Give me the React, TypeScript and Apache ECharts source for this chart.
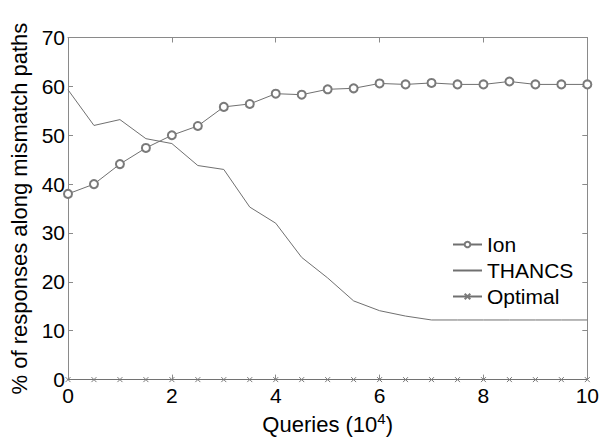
import React, { useEffect, useRef } from "react";
import * as echarts from "echarts";

const queries = [0, 0.5, 1, 1.5, 2, 2.5, 3, 3.5, 4, 4.5, 5, 5.5, 6, 6.5, 7, 7.5, 8, 8.5, 9, 9.5, 10];
const ion = [38.0, 40.0, 44.1, 47.4, 50.0, 51.9, 55.8, 56.4, 58.5, 58.3, 59.4, 59.6, 60.6, 60.4, 60.7, 60.4, 60.4, 61.0, 60.4, 60.4, 60.4];
const thancs = [59.3, 52.0, 53.2, 49.3, 48.3, 43.8, 43.0, 35.3, 32.0, 25.0, 20.8, 16.1, 14.1, 13.0, 12.2, 12.2, 12.2, 12.2, 12.2, 12.2, 12.2];
const optimal = [0, 0, 0, 0, 0, 0, 0, 0, 0, 0, 0, 0, 0, 0, 0, 0, 0, 0, 0, 0, 0];

const LINE = "#707070";
const MARK = "#7a7a7a";
const AXIS = "#8a8a8a";
const FONT = "Liberation Sans, Arial, sans-serif";

export default function App() {
  const ref = useRef<HTMLDivElement>(null);
  useEffect(() => {
    if (!ref.current) return;
    const chart = echarts.init(ref.current, undefined, { renderer: "svg" });
    const pair = (ys: number[]) => queries.map((x, i) => [x, ys[i]]);
    const axisCommon = {
      axisLine: { show: true, onZero: false, lineStyle: { color: AXIS, width: 1 } },
      axisTick: { show: true, inside: true, length: 5, lineStyle: { color: AXIS } },
      splitLine: { show: false },
    };
    chart.setOption({
      animation: false,
      backgroundColor: "#fff",
      textStyle: { fontFamily: FONT },
      grid: { left: 67, right: 14, top: 37.5, bottom: 59, containLabel: false },
      xAxis: [
        {
          type: "value", min: 0, max: 10, interval: 2, position: "bottom",
          ...axisCommon,
          axisLabel: { color: "#000", fontSize: 21, margin: 5, fontFamily: FONT },
          name: "Queries (10{sup|4})",
          nameLocation: "middle",
          nameGap: 30,
          nameTextStyle: {
            color: "#000", fontSize: 22, fontFamily: FONT,
            rich: { sup: { fontSize: 15, padding: [0, 0, 12, 0], color: "#000", fontFamily: FONT } },
          },
        },
        {
          type: "value", min: 0, max: 10, interval: 2, position: "top",
          ...axisCommon,
          axisLabel: { show: false },
        },
      ],
      yAxis: [
        {
          type: "value", min: 0, max: 70, interval: 10, position: "left",
          ...axisCommon,
          axisLabel: { color: "#000", fontSize: 21, margin: 3, fontFamily: FONT },
          name: "% of responses along mismatch paths",
          nameLocation: "middle",
          nameGap: 38,
          nameTextStyle: { color: "#000", fontSize: 22, fontFamily: FONT },
        },
        {
          type: "value", min: 0, max: 70, interval: 10, position: "right",
          ...axisCommon,
          axisLabel: { show: false },
        },
      ],
      legend: {
        orient: "vertical",
        left: 447,
        top: 229,
        itemWidth: 29,
        itemHeight: 7,
        itemGap: 5,
        textStyle: { color: "#000", fontSize: 21, fontFamily: FONT },
        data: [
          { name: "Ion" },
          { name: "THANCS", itemStyle: { opacity: 0 } },
          { name: "Optimal" },
        ],
      },
      series: [
        {
          name: "Ion", type: "line", data: pair(ion),
          symbol: "emptyCircle", symbolSize: 8, showAllSymbol: true,
          lineStyle: { color: LINE, width: 1 },
          itemStyle: { color: MARK, borderColor: MARK, borderWidth: 1 },
        },
        {
          name: "THANCS", type: "line", data: pair(thancs),
          symbol: "none", showSymbol: false,
          lineStyle: { color: LINE, width: 1 },
          itemStyle: { color: LINE },
        },
        {
          name: "Optimal", type: "line", data: pair(optimal),
          symbol: "path://M0,0L10,10M10,0L0,10", symbolSize: 5, showAllSymbol: true,
          lineStyle: { color: LINE, width: 1 },
          itemStyle: { color: "none", borderColor: MARK, borderWidth: 1 },
        },
      ],
    });
    return () => chart.dispose();
  }, []);
  return <div ref={ref} style={{ width: 602, height: 440, position: "absolute", left: 0, top: 0 }} />;
}
